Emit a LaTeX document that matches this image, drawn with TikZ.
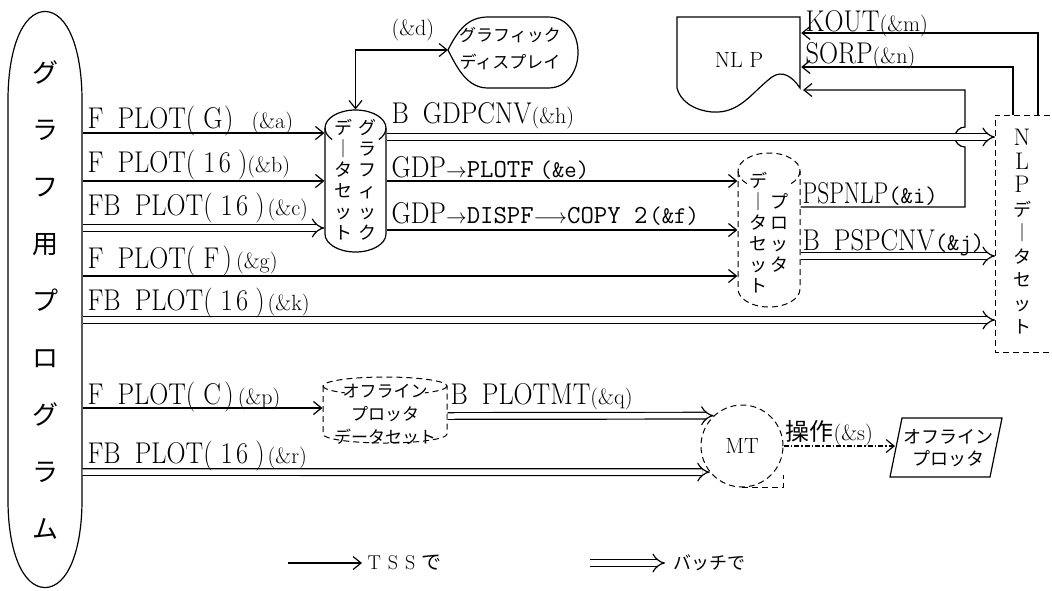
\documentclass[tikz,border=0pt]{standalone}
\usepackage{fontspec}
\usepackage{graphicx}
\usetikzlibrary{arrows.meta,calc}
\newfontfamily\cjk{Noto Sans CJK JP}
\newcommand\lbl[1]{\scalebox{0.88}[1]{\fontsize{30}{32}\selectfont #1}}
\newcommand\nlbl[1]{\scalebox{0.78}[1]{\fontsize{30}{32}\selectfont #1}}
\newcommand\sml[1]{{\fontsize{22}{24}\selectfont #1}}
\newcommand\tws[1]{{\ttfamily\fontsize{26}{28}\selectfont #1}}
\newcommand\twp[1]{{\ttfamily\fontsize{24}{26}\selectfont #1}}
\newcommand\arr{{\fontsize{20}{22}\selectfont$\rightarrow$}}
\newcommand\larr{{\fontsize{20}{22}\selectfont$\longrightarrow$}}
\newcommand\gap{\hspace{16pt}}
\newcommand\sixteen{(\hspace{9pt}1\hspace{4pt}6\hspace{8pt})}
\begin{document}
\begin{tikzpicture}[x=1pt,y=-1pt,line width=1.2pt,
  tss/.style={-{Straight Barb[length=8pt,width=13pt]}},
  tsstwo/.style={{Straight Barb[length=8pt,width=13pt]}-{Straight Barb[length=8pt,width=13pt]}},
  batch/.style={double, double distance=5.5pt, -{Implies}},
  dsh/.style={line width=1pt, dash pattern=on 6pt off 4pt},
  lab/.style={anchor=base west, inner sep=0pt},
  vt/.style={font=\cjk\fontsize{18}{21}\selectfont, align=center, inner sep=0pt},
  ghost/.style={inner sep=0pt}]
\useasboundingbox (0,0) rectangle (1052,590);

% program oval
\node[ghost, minimum width=74, minimum height=575] (prog) at (45,299.5) {};
\draw (prog.north) .. controls (68,12) and (82,50) .. (82,100) -- (82,500)
  .. controls (82,550) and (68,587) .. (prog.south)
  .. controls (22,587) and (8,550) .. (8,500) -- (8,100)
  .. controls (8,50) and (22,12) .. (prog.north);
\node[font=\cjk\fontsize{26}{57}\selectfont, align=center, inner sep=0pt] (progtxt) at (45,300)
  {グ\\ラ\\フ\\用\\プ\\ロ\\グ\\ラ\\ム};

% graphic data set (cylinder)
\node[ghost, minimum width=61, minimum height=142] (gds) at (355.5,181) {};
\draw (325,128) -- (325,234) arc[start angle=180,end angle=0,x radius=30.5,y radius=18]
  -- (386,128) arc[start angle=0,end angle=-180,x radius=30.5,y radius=18];
\draw (325,128) arc[start angle=180,end angle=140,x radius=30.5,y radius=18];
\draw (386,128) arc[start angle=0,end angle=40,x radius=30.5,y radius=18];
\node[vt] (gdsL) at (343,179.5) {デ\\｜\\タ\\セ\\ッ\\ト};
\node[vt] (gdsR) at (367,179.5) {グ\\ラ\\フ\\ィ\\ッ\\ク};

% graphic display
\coordinate (gdtip) at (448,50);
\draw (gdtip) .. controls (458,30) and (468,17) .. (488,17) -- (548,17)
  .. controls (588,17) and (588,88) .. (548,88) -- (488,88)
  .. controls (468,88) and (458,70) .. (gdtip);
\node[font=\cjk\fontsize{17}{27}\selectfont, align=center, inner sep=0pt] (gdisp) at (510,49)
  {グラフィック\\ディスプレイ};
\draw[tsstwo] (gds.north) |- (gdtip);
\node[lab] (ld) at (391,35) {\sml{(\&d)}};

% plotter data set (dashed cylinder)
\node[ghost, minimum width=62, minimum height=154] (pds) at (769,230) {};
\draw[dsh] (738,171) -- (738,289) arc[start angle=180,end angle=0,x radius=31,y radius=18]
  -- (800,171) arc[start angle=0,end angle=-180,x radius=31,y radius=18];
\draw[dsh] (738,171) arc[start angle=180,end angle=135,x radius=31,y radius=18];
\draw[dsh] (800,171) arc[start angle=0,end angle=45,x radius=31,y radius=18];
\node[vt] (pdsL) at (758,232.5) {デ\\｜\\タ\\セ\\ッ\\ト};
\node[vt] (pdsR) at (779,232.5) {プ\\ロ\\ッ\\タ};

% NLP data set
\node[ghost, minimum width=86, minimum height=237, anchor=north west] (nlpd) at (995,115) {};
\draw[dsh] (1060,115) -- (995,115) -- (995,352) -- (1060,352);
\node[font=\fontsize{24}{23.5}\selectfont, align=center, inner sep=0pt] (nlpdtxt) at (1022,232)
  {N\\L\\P\\{\cjk\fontsize{18}{23.5}\selectfont デ}\\{\cjk\fontsize{18}{23.5}\selectfont ｜}\\{\cjk\fontsize{18}{23.5}\selectfont タ}\\{\cjk\fontsize{18}{23.5}\selectfont セ}\\{\cjk\fontsize{18}{23.5}\selectfont ッ}\\{\cjk\fontsize{18}{23.5}\selectfont ト}};

% NLP document
\node[ghost, minimum width=123, minimum height=95, anchor=north west] (nlp) at (677,17) {};
\draw (677,17) -- (800,17) -- (800,88) .. controls (792,76) and (782,70) .. (772,77)
  .. controls (752,92) and (740,114) .. (712,112)
  .. controls (692,110) and (680,100) .. (677,88) -- cycle;
\node[font=\fontsize{22}{24}\selectfont, inner sep=0pt] (nlptxt) at (739,60) {NL P};
\coordinate (nlpw) at (803,90);

\draw[tss] (nlpd.north west -| 1038,0) |- (nlp.east |- 0,33);
\draw[tss] (nlpd.north west -| 1013,0) |- (nlp.east |- 0,67);
\node[lab] (lm) at (805,31) {\lbl{KOUT}\sml{(\&m)}};
\node[lab] (ln) at (805,63) {\lbl{SORP}\sml{(\&n)}};

% PSPNLP with hop
\draw[tss] (pds.east |- 0,207) -- (965,207) -- (965,147)
  arc[start angle=90,end angle=270,radius=10] -- (965,90) -- (nlpw);
\node[lab] (li) at (802,203) {\nlbl{PSPNLP}\twp{(\&i)}};

% from graphic data set
\draw[batch] (gds.east |- 0,137) -- (nlpd.west |- 0,137);
\node[lab] (lh) at (391,123) {\lbl{B\gap GDPCNV}\sml{(\&h)}};
\draw[tss] (gds.east |- 0,181) -- (pds.west |- 0,181);
\node[lab] (le) at (391,177) {\lbl{GDP}\arr\tws{PLOTF}\hspace{6pt}\twp{(\&e)}};
\draw[tss] (gds.east |- 0,230) -- (pds.west |- 0,230);
\node[lab] (lf) at (391,223) {\lbl{GDP}\arr\tws{DISPF}\larr\tws{COPY 2}\hspace{2pt}\twp{(\&f)}};

% from plotter data set
\draw[batch] (pds.east |- 0,256) -- (nlpd.west |- 0,256);
\node[lab] (lj) at (802,250) {\lbl{B\gap PSPCNV}\twp{(\&j)}};

% from program
\draw[tss] (prog.east |- 0,133) -- (gds.west |- 0,133);
\node[lab] (la) at (87,128) {\lbl{F\gap PLOT(\hspace{9pt}G\hspace{2pt})}\hspace{18pt}\sml{(\&a)}};
\draw[tss] (prog.east |- 0,181) -- (gds.west |- 0,181);
\node[lab] (lb) at (87,172) {\lbl{F\gap PLOT\sixteen}\sml{(\&b)}};
\draw[batch] (prog.east |- 0,228) -- (gds.west |- 0,228);
\node[lab] (lc) at (87,215) {\lbl{FB\gap PLOT\sixteen}\hspace{3pt}\sml{(\&c)}};
\draw[tss] (prog.east |- 0,276) -- (pds.west |- 0,276);
\node[lab] (lg) at (87,268) {\lbl{F\gap PLOT(\hspace{9pt}F\hspace{4pt})}\hspace{4pt}\sml{(\&g)}};
\draw[batch] (prog.east |- 0,320) -- (nlpd.west |- 0,320);
\node[lab] (lk) at (87,310) {\lbl{FB\gap PLOT\sixteen}\hspace{3pt}\sml{(\&k)}};

% offline plotter data set
\node[ghost, minimum width=124, minimum height=66] (ods) at (385,410) {};
\draw[dsh] (323,386) -- (323,434) arc[start angle=180,end angle=0,x radius=62,y radius=9]
  -- (447,386) arc[start angle=0,end angle=-180,x radius=62,y radius=9];
\draw[dsh] (323,386) arc[start angle=180,end angle=130,x radius=62,y radius=9];
\draw[dsh] (447,386) arc[start angle=0,end angle=50,x radius=62,y radius=9];
\node[font=\cjk\fontsize{17}{23}\selectfont, align=center, inner sep=0pt] (odstxt) at (385,414)
  {オフライン\\プロッタ\\データセット};

% MT
\node[draw, dsh, circle, minimum size=82, inner sep=0pt, font=\fontsize{22}{24}\selectfont] (mt) at (742,446) {MT};
\draw[dsh] (mt.south) -- ++(41,0) -- ++(0,-13);

\draw[tss] (prog.east |- 0,408) -- (ods.west |- 0,408);
\node[lab] (lp) at (87,404) {\lbl{F\gap PLOT(\hspace{9pt}C\hspace{4pt})}\hspace{4pt}\sml{(\&p)}};
\draw[batch] (prog.east |- 0,472) -- (mt.219);
\node[lab] (lr) at (87,463) {\lbl{FB\gap PLOT\sixteen}\hspace{3pt}\sml{(\&r)}};
\draw[batch] (ods.east |- 0,416) -- (mt.133);
\node[lab] (lq) at (450,404) {\lbl{B\gap PLOTMT}\sml{(\&q)}};

% offline plotter
\node[font=\cjk\fontsize{18}{22}\selectfont, align=center, inner sep=0pt] (opl) at (948,448) {オフライン\\プロッタ};
\draw (890,477) -- (902,418) -- (1002,418) -- (990,477) -- cycle;
\coordinate (oplin) at (895,446);
\draw[tss, dash pattern=on 5pt off 2pt on 1.5pt off 2pt] (mt.east) -- (oplin);
\node[lab] (ls) at (785,440) {{\cjk\fontsize{24}{26}\selectfont 操作}\sml{(\&s)}};

% legend
\coordinate (l1s) at (288,563);
\coordinate (l1e) at (362,563);
\draw[tss] (l1s) -- (l1e);
\node[anchor=west, inner sep=0pt] (l1t) at (367,563) {\fontsize{20}{22}\selectfont T\hspace{7pt}S\hspace{7pt}S\hspace{6pt}{\cjk で}};
\coordinate (l2s) at (590,563);
\coordinate (l2e) at (665,563);
\draw[batch] (l2s) -- (l2e);
\node[anchor=west, inner sep=0pt] (l2t) at (673,563) {\cjk\fontsize{18}{20}\selectfont バッチで};
\end{tikzpicture}
\end{document}
